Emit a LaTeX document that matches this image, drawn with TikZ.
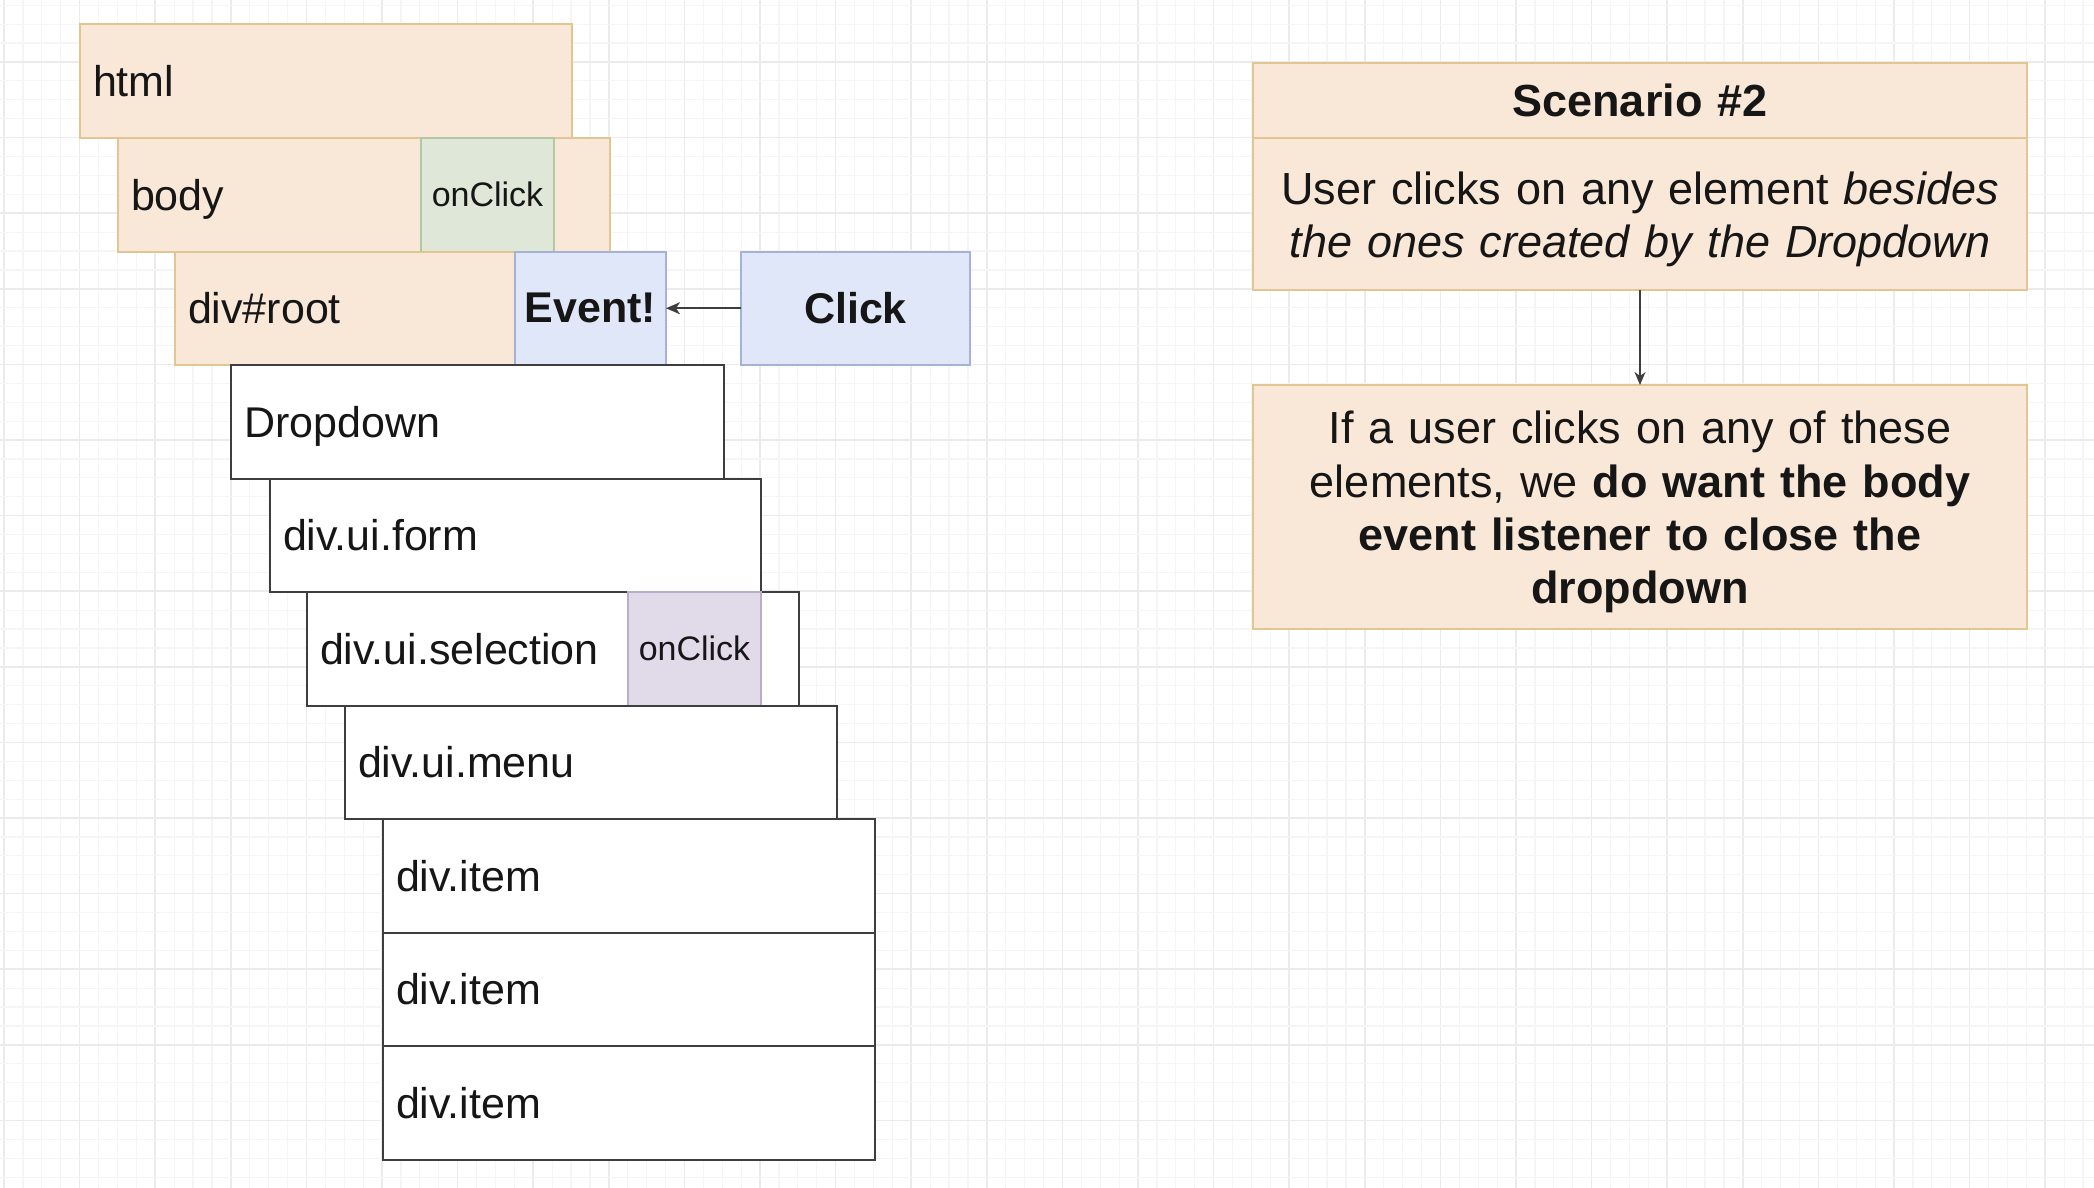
\documentclass[tikz,border=0pt]{standalone}
\usepackage{fontspec}
\setmainfont{Liberation Sans}
\usetikzlibrary{arrows.meta}
\definecolor{orangefill}{RGB}{249,232,215}
\definecolor{orangeline}{RGB}{226,198,145}
\definecolor{greenfill}{RGB}{222,231,216}
\definecolor{greenline}{RGB}{178,200,160}
\definecolor{bluefill}{RGB}{224,231,248}
\definecolor{blueline}{RGB}{165,178,212}
\definecolor{purplefill}{RGB}{225,219,233}
\definecolor{purpleline}{RGB}{186,172,202}
\definecolor{darkline}{RGB}{62,62,62}
\definecolor{textcol}{RGB}{22,22,22}
\definecolor{gridminor}{RGB}{245,245,245}
\definecolor{gridmajor}{RGB}{235,235,235}
\newcommand\lblfont{\fontsize{43}{52}\selectfont}
\newcommand\onfont{\fontsize{34}{41}\selectfont}
\newcommand\scfont{\fontsize{45}{53.4}\selectfont}
\begin{document}
\begin{tikzpicture}[x=1pt,y=-1pt,
  every node/.style={text=textcol, outer sep=0pt},
  box/.style={rectangle, anchor=north west, minimum width=492pt, minimum height=113.5pt,
    inner xsep=13pt, inner ysep=0pt, text width=466pt, align=left,
    text height=31pt, text depth=0pt, line width=2pt, font=\lblfont},
  orangebox/.style={box, draw=orangeline, fill=orangefill},
  whitebox/.style={box, draw=darkline, fill=white},
  tagbox/.style={rectangle, anchor=north west, minimum height=113.5pt, inner sep=0pt,
    line width=2pt, align=center},
  rbox/.style={rectangle, minimum width=774pt, inner xsep=12pt, inner ysep=0pt,
    text width=750pt, align=center, draw=orangeline, fill=orangefill, line width=2pt, font=\scfont},
  arr/.style={-{Stealth[length=14pt,width=12pt,inset=4pt]}, draw=darkline, line width=2pt}
]
\useasboundingbox (0,0) rectangle (2094,1188);
\fill[white] (0,0) rectangle (2094,1188);
% grid
\foreach \i in {0,...,111} {
  \pgfmathtruncatemacro\m{mod(\i,4)}
  \ifnum\m=0
    \draw[gridmajor, line width=1.6pt] ({4+18.9*\i},0) -- ({4+18.9*\i},1188);
  \else
    \draw[gridminor, line width=1.2pt] ({4+18.9*\i},0) -- ({4+18.9*\i},1188);
  \fi
}
\foreach \j in {0,...,63} {
  \pgfmathtruncatemacro\m{mod(\j,4)}
  \ifnum\m=3
    \draw[gridmajor, line width=1.6pt] (0,{5.3+18.9*\j}) -- (2094,{5.3+18.9*\j});
  \else
    \draw[gridminor, line width=1.2pt] (0,{5.3+18.9*\j}) -- (2094,{5.3+18.9*\j});
  \fi
}
% left stack
\node[orangebox] (html) at (80,24.5) {html};
\node[orangebox] (body) at (118,138) {body};
\node[tagbox, minimum width=133pt, draw=greenline, fill=greenfill, font=\onfont] (bodyclick) at (421,138) {onClick};
\node[orangebox, minimum width=491pt, text width=465pt] (root) at (175,251.5) {div\#root};
\node[tagbox, minimum width=151pt, draw=blueline, fill=bluefill, font=\lblfont\bfseries] (event) at (515,251.5) {Event!};
\node[tagbox, minimum width=229pt, draw=blueline, fill=bluefill, font=\lblfont\bfseries] (click) at (741,251.5) {Click};
\node[whitebox, minimum width=493pt, text width=467pt] (dropdown) at (231,365) {Dropdown};
\node[whitebox, minimum width=491pt, text width=465pt] (form) at (270,478.5) {div.ui.form};
\node[whitebox] (selection) at (307,592) {div.ui.selection};
\node[tagbox, minimum width=133pt, draw=purpleline, fill=purplefill, font=\onfont] (selclick) at (628,592) {onClick};
\node[whitebox] (menu) at (345,705.5) {div.ui.menu};
\node[whitebox] (item1) at (383,819) {div.item};
\node[whitebox] (item2) at (383,932.5) {div.item};
\node[whitebox] (item3) at (383,1046) {div.item};
\draw[arr] (click.west) -- (event.east);
% right side
\node[rbox, minimum height=75pt, font=\scfont\bfseries] (hdr) at (1640,100.5) {Scenario \#2};
\node[rbox, minimum height=152pt, text height=43pt] (scbody) at (1640,214) {User clicks on any element \textit{besides}\\\textit{the ones created by the Dropdown}};
\node[rbox, minimum height=244pt, text height=43pt] (result) at (1640,507) {If a user clicks on any of these\\elements, we \textbf{do want the body}\\\textbf{event listener to close the}\\\textbf{dropdown}};
\draw[-{Stealth[length=13pt,width=11pt,inset=4pt]}, draw=darkline, line width=1.5pt] (scbody.south) -- (result.north);
\end{tikzpicture}
\end{document}
